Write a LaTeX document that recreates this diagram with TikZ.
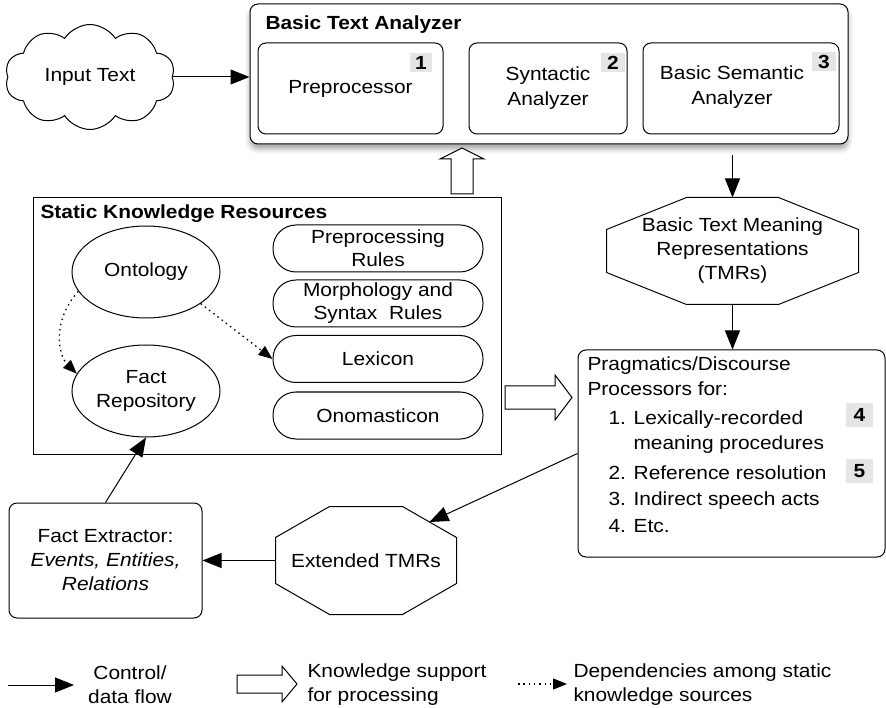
\documentclass[tikz,border=0pt]{standalone}
\usepackage{fontspec}
\setmainfont{Liberation Sans}[FakeStretch=1.1]
\usetikzlibrary{arrows.meta,shapes.symbols,shapes.geometric,shadows.blur,calc}

\begin{document}
\begin{tikzpicture}[x=1pt,y=-1pt,line width=1pt,font=\fontsize{19}{25}\selectfont,
  box/.style={draw,fill=white,rounded corners=8pt,inner sep=0pt,align=center},
  pill/.style={draw,rounded corners=23pt,minimum width=210pt,minimum height=47pt,inner sep=0pt,align=center,font=\fontsize{19}{23}\selectfont},
  oval/.style={draw,ellipse,minimum width=148pt,minimum height=92pt,inner sep=0pt,align=center,font=\fontsize{19}{24}\selectfont},
  badge/.style={fill=black!10,font=\fontsize{19}{23}\selectfont\bfseries,minimum width=24pt,minimum height=19pt,inner sep=0pt},
  title/.style={anchor=base west,inner sep=0pt,font=\fontsize{19}{23}\selectfont\bfseries},
  flow/.style={-{Triangle[length=19pt,width=15pt]}},
  dep/.style={line width=1.3pt,dash pattern=on 1.5pt off 3.8pt,-{Triangle[length=14pt,width=11pt]}},
  hollow/.style={draw,fill=white,line join=miter}]
  \useasboundingbox (0,0) rectangle (886,708);

  % input and basic text analyzer
  \node[draw,cloud,cloud puffs=10,cloud puff arc=115,aspect=1.7,minimum width=170pt,minimum height=105pt,inner sep=0pt] (input) at (90,77) {Input Text};
  \node[box,blur shadow={shadow xshift=0pt,shadow yshift=-5pt,shadow blur radius=5pt,shadow opacity=35},minimum width=598pt,minimum height=140pt] (bta) at (549,74) {};
  \node[title] (btatitle) at (265,30) {Basic Text Analyzer};
  \node[box,minimum width=185pt,minimum height=91pt] (prep) at (350.5,88.5) {Preprocessor};
  \node[box,minimum width=158pt,minimum height=91pt] (synt) at (548,88.5) {Syntactic\\Analyzer};
  \node[box,minimum width=196pt,minimum height=91pt] (bsem) at (741,88.5) {};
  \node[align=center,inner sep=0pt] (bsemtext) at (732,87) {Basic Semantic\\Analyzer};
  \node[badge,minimum width=22pt] (b1) at (421,63) {1};
  \node[badge] (b2) at (613,63) {2};
  \node[badge] (b3) at (824,62) {3};
  \draw[flow] (input.east) -- (input.east -| bta.west);

  % basic TMRs
  \node[minimum width=251pt,minimum height=106pt,inner sep=0pt,align=center,font=\fontsize{19}{24}\selectfont] (btmr) at (732.5,251) {Basic Text Meaning\\Representations\\(TMRs)};
  \draw ($(btmr.north west)+(80,0)$) -- ($(btmr.north east)+(-80,0)$) -- ($(btmr.north east)+(0,32)$)
    -- ($(btmr.south east)+(0,-32)$) -- ($(btmr.south east)+(-80,0)$) -- ($(btmr.south west)+(80,0)$)
    -- ($(btmr.south west)+(0,-32)$) -- ($(btmr.north west)+(0,32)$) -- cycle;
  \draw[flow] ([yshift=-11pt]bta.south -| btmr.north) -- (btmr.north);

  % pragmatics
  \node[box,minimum width=307pt,minimum height=207pt] (prag) at (731.5,453.5) {};
  \node[anchor=north west,inner sep=0pt,align=left] (pragtext) at (587,356) {Pragmatics/Discourse\\
    Processors for:\\[4pt]
    \hspace*{21pt}1. Lexically-recorded\\
    \hspace*{46pt}meaning procedures\\[5pt]
    \hspace*{21pt}2. Reference resolution\\[1pt]
    \hspace*{21pt}3. Indirect speech acts\\[2pt]
    \hspace*{21pt}4. Etc.};
  \node[badge,minimum width=27pt,minimum height=24pt] (b4) at (859.5,415) {4};
  \node[badge,minimum width=27pt,minimum height=24pt] (b5) at (859.5,471) {5};
  \draw[flow] (btmr.south) -- (btmr.south |- prag.north);

  % static knowledge resources
  \node[draw,minimum width=468pt,minimum height=256pt,inner sep=0pt] (skr) at (267,326) {};
  \node[title] (skrtitle) at (40,219) {Static Knowledge Resources};
  \node[oval] (onto) at (146,272) {Ontology};
  \node[oval] (fact) at (146,391) {Fact\\Repository};
  \node[pill] (prul) at (378,248.5) {Preprocessing\\Rules};
  \node[pill] (msr) at (378,303.5) {Morphology and\\Syntax\ \ Rules};
  \node[pill] (lex) at (378,359) {Lexicon};
  \node[pill] (onom) at (378,415.5) {Onomasticon};
  \draw[dep] (onto.196) .. controls (52,320) and (58,355) .. (fact.166);
  \draw[dep] (onto.-30) -- (lex.west);

  % knowledge support
  \draw[hollow] (451,194) -- (451,159) -- (440,159) -- (462,148) -- (484,159) -- (473,159) -- (473,194) -- cycle;
  \draw[hollow] (505,386) -- (555,386) -- (555,375) -- (572,397.5) -- (555,420) -- (555,409) -- (505,409) -- cycle;

  % extended TMRs and fact extractor
  \node[minimum width=180pt,minimum height=107pt,inner sep=0pt] (etmr) at (366,560.5) {Extended TMRs};
  \draw ($(etmr.north west)+(54,0)$) -- ($(etmr.north east)+(-54,0)$) -- ($(etmr.north east)+(0,31)$)
    -- ($(etmr.south east)+(0,-31)$) -- ($(etmr.south east)+(-54,0)$) -- ($(etmr.south west)+(54,0)$)
    -- ($(etmr.south west)+(0,-31)$) -- ($(etmr.north west)+(0,31)$) -- cycle;
  \coordinate (etmrne) at ($(etmr.north east)+(-27,15.5)$);
  \node[box,minimum width=193pt,minimum height=115pt,font=\fontsize{19}{24}\selectfont] (fext) at (105.5,560.5) {Fact Extractor:\\\textit{Events, Entities,}\\\textit{Relations}};
  \draw[flow] (prag.west) -- (etmrne);
  \draw[flow] (etmr.west) -- (fext.east);
  \draw[flow] (fext.north) -- (fact.south);

  % legend
  \coordinate (lega) at (8,685);
  \coordinate (legb) at (74,685);
  \draw[flow] (lega) -- (legb);
  \node[align=center,inner sep=0pt,font=\fontsize{19}{24}\selectfont] (legflow) at (130,685) {Control/\\data flow};
  \draw[hollow] (237,675) -- (282,675) -- (282,666) -- (297,684) -- (282,702) -- (282,693) -- (237,693) -- cycle;
  \node[anchor=west,align=left,inner sep=0pt,font=\fontsize{19}{24}\selectfont] (legknow) at (307,685) {Knowledge support\\for processing};
  \coordinate (legc) at (518,684);
  \coordinate (legd) at (567,684);
  \draw[dep] (legc) -- (legd);
  \node[anchor=west,align=left,inner sep=0pt,font=\fontsize{19}{24}\selectfont] (legdep) at (573,685) {Dependencies among static\\knowledge sources};
\end{tikzpicture}
\end{document}
